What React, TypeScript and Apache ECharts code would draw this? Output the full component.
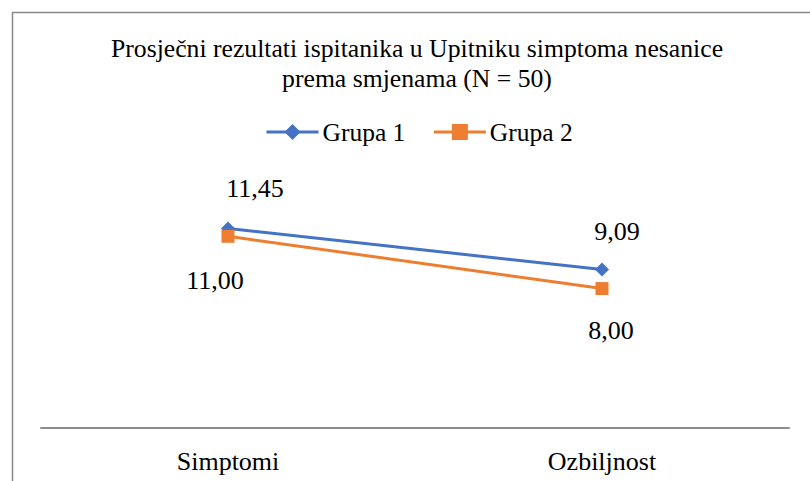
import React, { useEffect, useRef } from "react";
import * as echarts from "echarts";

const titleText = "Prosječni rezultati ispitanika u Upitniku simptoma nesanice\nprema smjenama (N = 50)";
const categories = ["Simptomi", "Ozbiljnost"];
const grupa1 = [11.45, 9.09];
const grupa2 = [11.0, 8.0];
const seriesNames = ["Grupa 1", "Grupa 2"];

const FONT = "'Liberation Serif', 'Times New Roman', serif";
const FS = 26;
const fmt = (v: number) => v.toFixed(2).replace(".", ",");

export default function App() {
  const ref = useRef<HTMLDivElement>(null);
  useEffect(() => {
    document.body.style.margin = "0";
    if (!ref.current) return;
    const chart = echarts.init(ref.current, undefined, { renderer: "svg" });
    const off1 = [[27, -40], [15, -38]];
    const off2 = [[-13, 44], [9, 42]];
    chart.setOption({
      animation: false,
      backgroundColor: "#ffffff",
      textStyle: { fontFamily: FONT },
      title: {
        text: titleText,
        left: 417,
        top: 33,
        padding: 0,
        textAlign: "center",
        textStyle: { fontFamily: FONT, fontSize: 25.7, fontWeight: "normal", color: "#000", lineHeight: 30 },
      },
      legend: {
        left: 265,
        top: 119,
        padding: 0,
        itemWidth: 52,
        itemHeight: 20,
        itemGap: 27,
        lineStyle: { width: 3 },
        textStyle: { fontFamily: FONT, fontSize: 25.5, color: "#000", padding: [0, 0, 0, -1] },
        data: seriesNames,
      },
      grid: { left: 41, right: 21, top: 184, bottom: 53 },
      xAxis: {
        type: "category",
        data: categories,
        boundaryGap: true,
        axisLine: { lineStyle: { color: "#8c8c8c", width: 2 } },
        axisTick: { show: false },
        axisLabel: { fontFamily: FONT, fontSize: FS, color: "#000", margin: 20 },
      },
      yAxis: {
        type: "value",
        min: 0,
        max: 14,
        show: false,
        splitLine: { show: false },
      },
      graphic: [
        {
          type: "rect",
          shape: { x: 12.5, y: 12.5, width: 900, height: 600 },
          style: { fill: "none", stroke: "#8a8a8a", lineWidth: 1.5 },
          silent: true,
        },
      ],
      series: [
        {
          name: seriesNames[0],
          type: "line",
          data: grupa1.map((v, i) => ({
            value: v,
            label: { offset: off1[i] },
          })),
          symbol: "diamond",
          symbolSize: 14,
          itemStyle: { color: "#4472C4" },
          lineStyle: { color: "#4472C4", width: 3 },
          label: {
            show: true,
            position: "inside",
            formatter: (p: any) => fmt(p.value),
            fontFamily: FONT,
            fontSize: FS,
            color: "#000",
          },
        },
        {
          name: seriesNames[1],
          type: "line",
          data: grupa2.map((v, i) => ({
            value: v,
            label: { offset: off2[i] },
          })),
          symbol: "rect",
          symbolSize: 13,
          itemStyle: { color: "#ED7D31" },
          lineStyle: { color: "#ED7D31", width: 3 },
          label: {
            show: true,
            position: "inside",
            formatter: (p: any) => fmt(p.value),
            fontFamily: FONT,
            fontSize: FS,
            color: "#000",
          },
        },
      ],
    });
    return () => chart.dispose();
  }, []);
  return <div ref={ref} style={{ width: 810, height: 481 }} />;
}
